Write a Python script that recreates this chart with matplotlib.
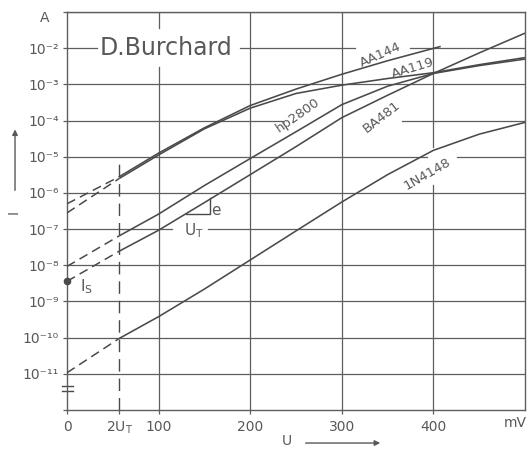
"""Diode forward characteristics, I over U (log scale).
"""
import numpy as np
import matplotlib.pyplot as plt

plt.rcParams["font.family"] = "DejaVu Sans"
plt.rcParams["mathtext.fontset"] = "dejavusans"

#### Data (U in mV, I in A).
UT2 = 57          # where 2*U_T sits on the U axis
UT = 26           # thermal voltage, mV

aa144_dash_u = [0, UT2]
aa144_dash_i = [5.0e-7, 2.8e-6]
aa144_u = [57, 100, 150, 200, 250, 300, 350, 408]
aa144_i = [2.8e-6, 1.26e-5, 6.3e-5, 2.6e-4, 7.4e-4, 1.9e-3, 4.5e-3, 1.12e-2]

aa119_dash_u = [0, UT2]
aa119_dash_i = [2.8e-7, 2.5e-6]
aa119_u = [57, 100, 150, 200, 250, 300, 350, 400, 450, 500]
aa119_i = [2.5e-6, 1.12e-5, 5.9e-5, 2.2e-4, 5.6e-4, 9.5e-4, 1.45e-3, 2.1e-3, 3.5e-3, 5.5e-3]

hp2800_dash_u = [0, UT2]
hp2800_dash_i = [9.3e-9, 6.5e-8]
hp2800_u = [57, 100, 150, 200, 250, 300, 350, 400, 450, 500]
hp2800_i = [6.5e-8, 2.6e-7, 1.6e-6, 8.9e-6, 4.9e-5, 2.75e-4, 8.9e-4, 2.0e-3, 3.3e-3, 5.0e-3]

ba481_dash_u = [0, UT2]
ba481_dash_i = [3.6e-9, 2.45e-8]
ba481_u = [57, 100, 150, 200, 250, 300, 350, 400, 450, 500]
ba481_i = [2.45e-8, 9.3e-8, 5.4e-7, 3.2e-6, 1.9e-5, 1.2e-4, 5.0e-4, 2.0e-3, 7.4e-3, 2.6e-2]

n4148_dash_u = [0, UT2]
n4148_dash_i = [1.07e-11, 9.5e-11]
n4148_u = [57, 100, 150, 200, 250, 300, 350, 400, 450, 500]
n4148_i = [9.5e-11, 3.8e-10, 2.2e-9, 1.4e-8, 8.9e-8, 5.6e-7, 3.2e-6, 1.5e-5, 4.2e-5, 8.9e-5]

i_s = 3.6e-9      # saturation current marked on the I axis

xticks = [0, UT2, 100, 200, 300, 400]
xticklabels = ["0", r"$\mathregular{2U_T}$", "100", "200", "300", "400"]
ydecades = list(range(-12, 0))
SUP = str.maketrans("-0123456789", "⁻⁰¹²³⁴⁵⁶⁷⁸⁹")

#### Style.
INK = "#4a4a4a"
GRID = "#5e5e5e"
TXT = "#585858"
CURVE = dict(color=INK, linewidth=1.15, zorder=3, solid_capstyle="butt")
DASH = dict(color=INK, linewidth=1.1, zorder=3, dashes=(6, 3.5))
GRID_KW = dict(color=GRID, linewidth=0.9, zorder=1)

fig = plt.figure(figsize=(5.27, 4.49), dpi=100)
ax = fig.add_axes([67 / 527, 39 / 449, 458 / 527, 398 / 449])
ax.set_yscale("log")
ax.set_xlim(0, 500)
ax.set_ylim(1e-12, 1e-1)


#### Grid with gaps where the lettering sits.
def hline_gaps(y, gaps=()):
    edges = [0] + [v for g in gaps for v in g] + [500]
    for a, b in zip(edges[::2], edges[1::2]):
        ax.plot([a, b], [y, y], **GRID_KW)


def vline_gaps(x, gaps=()):
    edges = [1e-12] + [v for g in gaps for v in g] + [1e-1]
    for a, b in zip(edges[::2], edges[1::2]):
        ax.plot([x, x], [a, b], **GRID_KW)


hgaps = {-2: [(33, 189), (314, 374)], -4: [(236, 366)],
         -5: [(393, 426)], -7: [(115, 154)]}
for d in ydecades[1:]:
    hline_gaps(10.0 ** d, hgaps.get(d, ()))
vgaps = {100: [(3.0e-3, 3.6e-2)], 400: [(1.66e-6, 1.86e-5)]}
for xv in (100, 200, 300, 400):
    vline_gaps(xv, vgaps.get(xv, ()))

# 2 U_T marker line
ax.plot([UT2, UT2], [1e-12, 8.1e-6], color=INK, linewidth=1.0, zorder=2,
        dashes=(9, 5))

for sp in ax.spines.values():
    sp.set_color(GRID)
    sp.set_linewidth(1.0)

#### Curves.
for du, di, u, i in [(aa144_dash_u, aa144_dash_i, aa144_u, aa144_i),
                     (aa119_dash_u, aa119_dash_i, aa119_u, aa119_i),
                     (hp2800_dash_u, hp2800_dash_i, hp2800_u, hp2800_i),
                     (ba481_dash_u, ba481_dash_i, ba481_u, ba481_i),
                     (n4148_dash_u, n4148_dash_i, n4148_u, n4148_i)]:
    ax.plot(du, di, **DASH)
    ax.plot(u, i, **CURVE)

ax.plot([0], [i_s], marker="o", ms=4.5, color=INK, zorder=4, clip_on=False)

# slope triangle U_T / e on BA481
u0 = 130
i0 = 10 ** np.interp(u0, ba481_u, np.log10(ba481_i))
ax.plot([u0, u0 + UT, u0 + UT], [i0, i0, i0 * np.e], color=INK,
        linewidth=1.0, zorder=3)

#### Labels.
ax.text(108, 1e-2, "D.Burchard", fontsize=17, color=TXT, ha="center",
        va="center")
LBL = dict(fontsize=9.5, color=TXT, ha="center", va="center",
           rotation_mode="anchor")
ax.text(342, 6.5e-3, "AA144", rotation=24, **LBL)
ax.text(378, 2.8e-3, "AA119", rotation=17, **LBL)
ax.text(252, 1.45e-4, "hp2800", rotation=35, **LBL)
ax.text(344, 1.26e-4, "BA481", rotation=38, **LBL)
ax.text(393, 3.3e-6, "1N4148", rotation=30, **LBL)
ax.text(139, 8.9e-8, r"$\mathregular{U_T}$", fontsize=11, color=TXT,
        ha="center", va="center")
ax.text(162, 3.2e-7, "e", fontsize=11, color=TXT, ha="center", va="center")
ax.text(21, 2.5e-9, r"$\mathregular{I_S}$", fontsize=11, color=TXT,
        ha="center", va="center")

#### Axes, ticks.
ax.set_xticks(xticks)
ax.set_xticklabels(xticklabels)
ax.set_yticks([10.0 ** d for d in ydecades])
ax.set_yticklabels(["" if d in (-12, -1) else "10" + str(d).translate(SUP)
                    for d in ydecades])
ax.yaxis.set_minor_locator(plt.NullLocator())
ax.tick_params(axis="both", which="major", direction="out", length=3,
               width=0.9, color=GRID, labelcolor=TXT, labelsize=10, pad=3)
ax.tick_params(axis="x", pad=4)

tr = ax.transAxes
ax.text(-0.048, 0.985, "A", transform=tr, fontsize=10, color=TXT,
        ha="center", va="center")
ax.annotate("", xy=(-0.1135, 0.712), xytext=(-0.1135, 0.545),
            xycoords=tr, textcoords=tr,
            arrowprops=dict(arrowstyle="-|>", color=TXT, lw=1.0,
                            mutation_scale=8))
ax.text(-0.116, 0.497, "I", transform=tr, fontsize=10, color=TXT,
        rotation=90, ha="center", va="center")
ax.text(0.480, -0.078, "U", transform=tr, fontsize=10, color=TXT,
        ha="center", va="center")
ax.annotate("", xy=(0.69, -0.083), xytext=(0.515, -0.083),
            xycoords=tr, textcoords=tr,
            arrowprops=dict(arrowstyle="-|>", color=TXT, lw=1.0,
                            mutation_scale=8))
ax.text(1.004, -0.033, "mV", transform=tr, fontsize=10, color=TXT,
        ha="right", va="center")

# axis break sign below 10^-11
for yb in (0.060, 0.047):
    ax.plot([-0.012, 0.014], [yb, yb], transform=tr, color=INK,
            linewidth=1.0, clip_on=False)

#### Export.
fig.savefig("out.png", dpi=100, facecolor="white")
plt.close(fig)
